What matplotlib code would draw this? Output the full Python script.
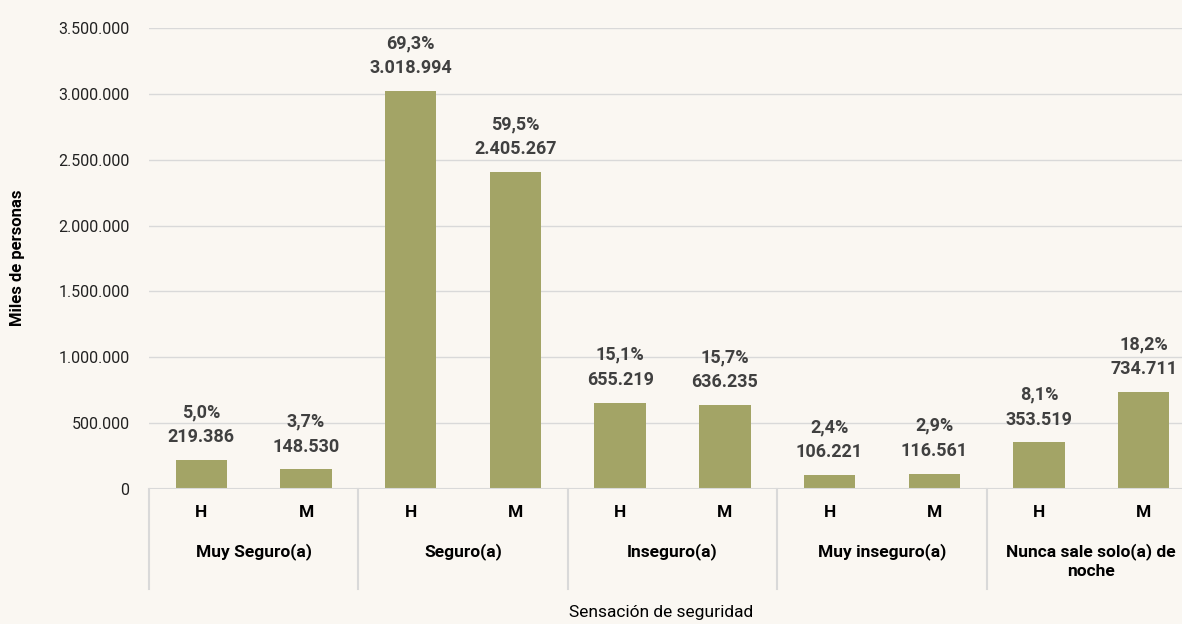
import matplotlib
matplotlib.use("Agg")
import matplotlib.pyplot as plt
import numpy as np

# población por sensación de seguridad y sexo
categorias = ['Muy Seguro(a)', 'Seguro(a)', 'Inseguro(a)', 'Muy inseguro(a)',
              'Nunca sale solo(a) de\nnoche']
sexos = ['H', 'M']
hombres = [219386, 3018994, 655219, 106221, 353519]
mujeres = [148530, 2405267, 636235, 116561, 734711]
pct_hombres = [5.0, 69.3, 15.1, 2.4, 8.1]
pct_mujeres = [3.7, 59.5, 15.7, 2.9, 18.2]
yticks = [0, 500000, 1000000, 1500000, 2000000, 2500000, 3000000, 3500000]

plt.rcParams['font.family'] = ['Roboto', 'DejaVu Sans']

fondo = '#FAF7F2'
verde = '#A3A466'
gris = '#D9D9D9'
texto = '#404040'

def miles(v):
	return f'{v:,.0f}'.replace(',', '.')

valores = []
pcts = []
for h, m, ph, pm in zip(hombres, mujeres, pct_hombres, pct_mujeres):
	valores += [h, m]
	pcts += [ph, pm]
x = np.arange(len(valores))

fig = plt.figure(figsize=(11.82, 6.24), dpi=100, facecolor=fondo)
ax = fig.add_axes([149/1182, 135/624, 1047/1182, 461/624])
ax.set_facecolor(fondo)

ax.bar(x, valores, width=0.49, color=verde, zorder=3)
for xi, v, p in zip(x, valores, pcts):
	ax.annotate(f'{p:.1f}%'.replace('.', ',') + '\n' + miles(v), xy=(xi, v),
		xytext=(0, 10), textcoords='offset points', ha='center', va='bottom',
		fontsize=13, fontweight='bold', color=texto, linespacing=1.5)

ax.set_xlim(-0.5, len(valores) - 0.5)
ax.set_ylim(0, 3500000)
ax.set_yticks(yticks)
ax.set_yticklabels([miles(t) for t in yticks], fontsize=11.5, color='#222222')
ax.tick_params(axis='y', length=0, pad=14)
ax.tick_params(axis='x', length=0, labelbottom=False)
ax.grid(axis='y', color=gris, linewidth=1, zorder=0)
for s in ax.spines.values():
	s.set_visible(False)
ax.axhline(0, color=gris, linewidth=1.5, zorder=4)

# eje de categorías en dos niveles
trans = ax.get_xaxis_transform()
for i in range(len(categorias) + 1):
	ax.plot([2*i - 0.5, 2*i - 0.5], [0, -0.218], transform=trans, color=gris,
		linewidth=1.5, clip_on=False)
for xi in x:
	ax.text(xi, -0.05, sexos[xi % 2], transform=trans, ha='center', va='center',
		fontsize=12.5, fontweight='bold', color='black')
for i, c in enumerate(categorias):
	ax.text(2*i + 0.5, -0.117, c, transform=trans, ha='center', va='top',
		fontsize=12.5, fontweight='bold', color='black', linespacing=1.35)

fig.text(661/1182, 1 - 612/624, 'Sensación de seguridad', ha='center', va='center',
	fontsize=12.5, color='black')
fig.text(18/1182, 1 - 258/624, 'Miles de personas', ha='center', va='center',
	rotation=90, fontsize=12, fontweight='bold', color='black')

fig.savefig('out.png', dpi=100, facecolor=fondo)
